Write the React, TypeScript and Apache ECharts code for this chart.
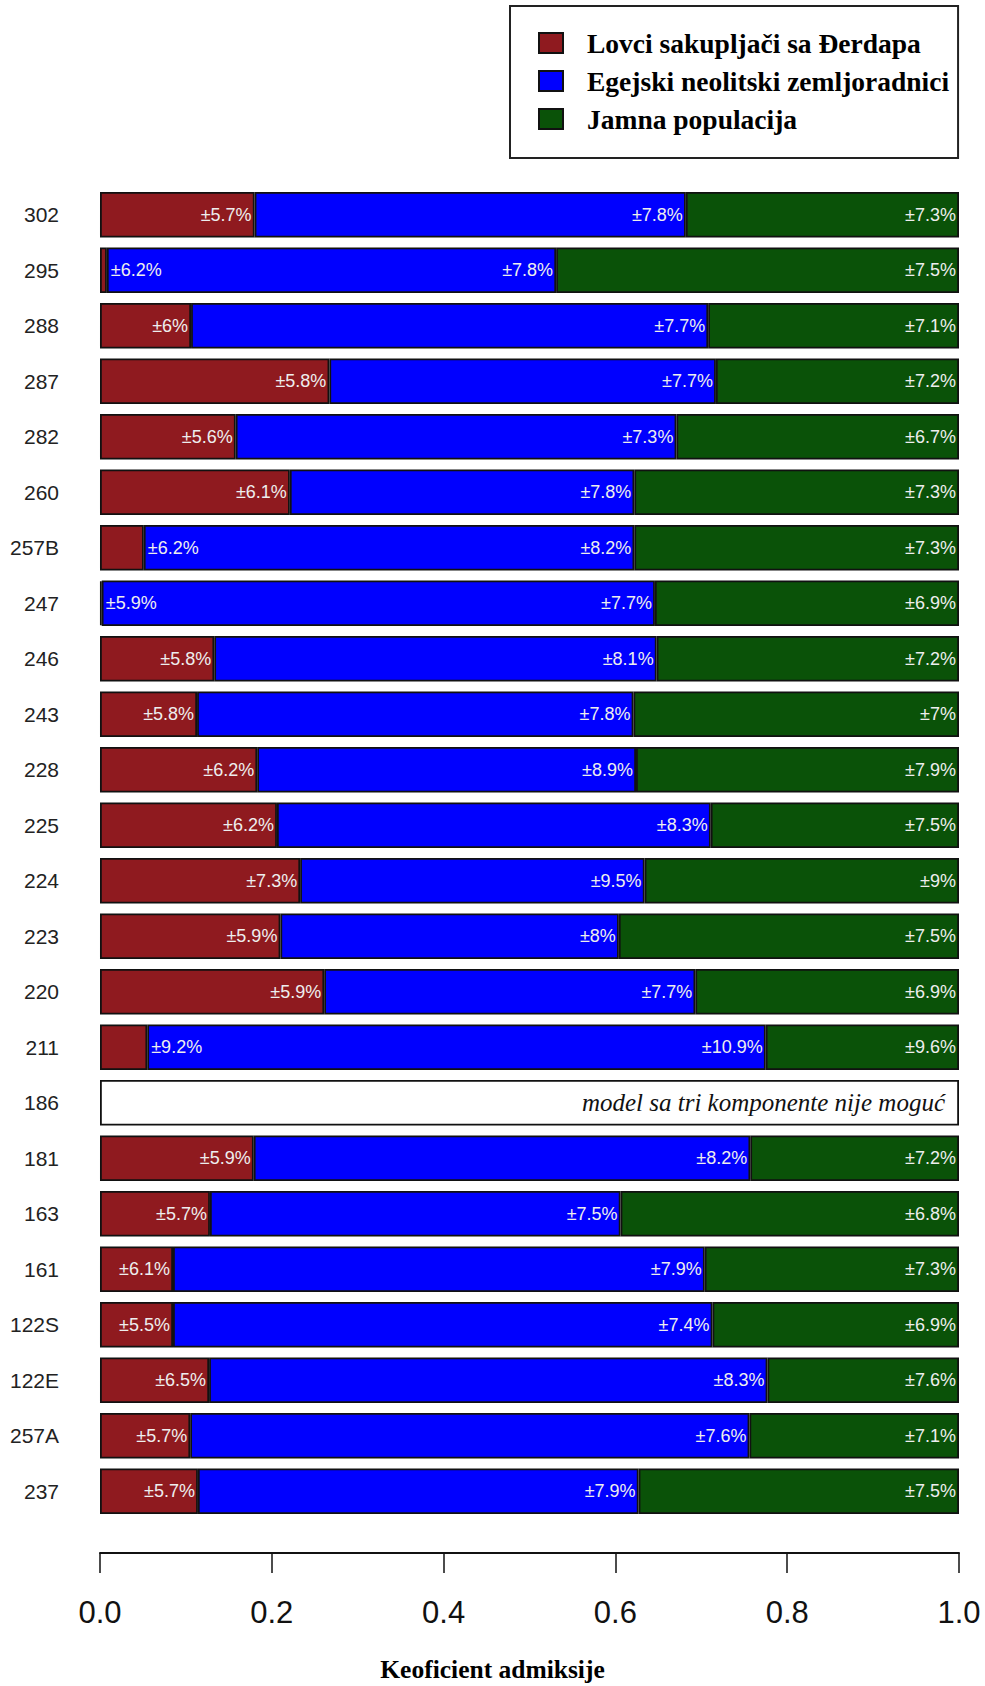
import React, { useEffect, useRef } from "react";
import * as echarts from "echarts";

// Samples, top to bottom
const samples = [
  "302", "295", "288", "287", "282", "260", "257B", "247", "246", "243", "228", "225",
  "224", "223", "220", "211", "186", "181", "163", "161", "122S", "122E", "257A", "237",
];

// Admixture proportions per source population (null = model not feasible)
const hunterGatherers: (number | null)[] = [
  0.180, 0.008, 0.106, 0.267, 0.158, 0.221, 0.051, 0.002, 0.133, 0.113, 0.183, 0.206,
  0.233, 0.210, 0.261, 0.055, null, 0.179, 0.128, 0.085, 0.085, 0.127, 0.105, 0.114,
];
const aegeanFarmers: (number | null)[] = [
  0.502, 0.523, 0.602, 0.450, 0.513, 0.401, 0.571, 0.644, 0.515, 0.508, 0.441, 0.505,
  0.401, 0.394, 0.432, 0.720, null, 0.578, 0.478, 0.619, 0.628, 0.650, 0.651, 0.513,
];
const yamnaya: (number | null)[] = [
  0.318, 0.469, 0.292, 0.283, 0.329, 0.378, 0.378, 0.354, 0.352, 0.379, 0.376, 0.289,
  0.366, 0.396, 0.307, 0.225, null, 0.243, 0.394, 0.296, 0.287, 0.223, 0.244, 0.373,
];

// Standard errors (in %)
const hunterGatherersErr: (number | null)[] = [
  5.7, 6.2, 6, 5.8, 5.6, 6.1, 6.2, 5.9, 5.8, 5.8, 6.2, 6.2,
  7.3, 5.9, 5.9, 9.2, null, 5.9, 5.7, 6.1, 5.5, 6.5, 5.7, 5.7,
];
const aegeanFarmersErr: (number | null)[] = [
  7.8, 7.8, 7.7, 7.7, 7.3, 7.8, 8.2, 7.7, 8.1, 7.8, 8.9, 8.3,
  9.5, 8, 7.7, 10.9, null, 8.2, 7.5, 7.9, 7.4, 8.3, 7.6, 7.9,
];
const yamnayaErr: (number | null)[] = [
  7.3, 7.5, 7.1, 7.2, 6.7, 7.3, 7.3, 6.9, 7.2, 7, 7.9, 7.5,
  9, 7.5, 6.9, 9.6, null, 7.2, 6.8, 7.3, 6.9, 7.6, 7.1, 7.5,
];

const seriesNames = [
  "Lovci sakupljači sa Đerdapa",
  "Egejski neolitski zemljoradnici",
  "Jamna populacija",
];
const noModelText = "model sa tri komponente nije moguć";
const xTicks = [0, 0.2, 0.4, 0.6, 0.8, 1.0];
const xTitle = "Keoficient admiksije";

const colors = ["#8f1a1f", "#0000ff", "#0a5208"];

const SANS = "'Liberation Sans', Arimo, Helvetica, Arial, sans-serif";
const SERIF = "'Liberation Serif', 'Times New Roman', serif";

export default function App() {
  const ref = useRef<HTMLDivElement>(null);

  useEffect(() => {
    document.body.style.margin = "0";
    if (!ref.current) return;
    const chart = echarts.init(ref.current, undefined, { renderer: "svg" });

    const valueLabel = {
      show: true,
      position: "insideRight" as const,
      distance: 3,
      color: "#eeeeee",
      fontFamily: SANS,
      fontSize: 18,
    };

    // Segment labels: a segment too narrow for its label gets it just past its end
    const makeData = (vals: (number | null)[], errs: (number | null)[], small?: boolean) =>
      vals.map((v, i) => {
        if (v === null) return { value: null };
        const outside = small && v < 0.07;
        return {
          value: v,
          label: {
            ...valueLabel,
            formatter: errs[i] === null ? "" : `±${errs[i]}%`,
            position: outside ? "right" : "insideRight",
            distance: outside ? 4 : 3,
          },
        };
      });

    const barBase = {
      type: "bar" as const,
      stack: "total",
      barCategoryGap: "18%",
      itemStyle: { borderColor: "#111", borderWidth: 1.8 },
    };

    const noModel = samples.map((_, i) =>
      hunterGatherers[i] === null ? { value: 1 } : { value: null }
    );

    chart.setOption({
      animation: false,
      backgroundColor: "#ffffff",
      grid: { left: 100, right: 26, top: 187, bottom: 167 },
      legend: {
        data: seriesNames,
        orient: "vertical",
        left: 510,
        top: 6,
        padding: [23, 9, 25, 28],
        itemGap: 10,
        itemWidth: 24,
        itemHeight: 20,
        borderColor: "#222",
        borderWidth: 2,
        icon: "rect",
        selectedMode: false,
        textStyle: {
          fontFamily: SERIF,
          fontWeight: "bold",
          fontSize: 27.5,
          color: "#000",
          padding: [0, 0, 0, 19],
        },
      },
      xAxis: {
        type: "value",
        min: 0,
        max: 1,
        interval: 0.2,
        position: "bottom",
        offset: 34,
        axisLine: { show: true, lineStyle: { color: "#111", width: 2 } },
        axisTick: { show: true, length: 20, lineStyle: { color: "#111", width: 1.5 } },
        splitLine: { show: false },
        axisLabel: {
          margin: 44,
          fontFamily: SANS,
          fontSize: 31,
          color: "#111",
          formatter: (v: number) => (xTicks.some((t) => Math.abs(t - v) < 1e-9) ? v.toFixed(1) : ""),
        },
      },
      yAxis: {
        type: "category",
        data: samples,
        inverse: true,
        axisLine: { show: false },
        axisTick: { show: false },
        axisLabel: { margin: 41, fontFamily: SANS, fontSize: 21, color: "#222" },
      },
      graphic: [
        {
          type: "text",
          left: "center",
          top: 1656,
          style: {
            text: xTitle,
            fontFamily: SERIF,
            fontWeight: "bold",
            fontSize: 25.5,
            fill: "#000",
          },
        },
      ],
      series: [
        {
          ...barBase,
          name: seriesNames[0],
          z: 4,
          itemStyle: { ...barBase.itemStyle, color: colors[0] },
          data: makeData(hunterGatherers, hunterGatherersErr, true),
        },
        {
          ...barBase,
          name: seriesNames[1],
          z: 3,
          itemStyle: { ...barBase.itemStyle, color: colors[1] },
          data: makeData(aegeanFarmers, aegeanFarmersErr),
        },
        {
          ...barBase,
          name: seriesNames[2],
          z: 2,
          itemStyle: { ...barBase.itemStyle, color: colors[2] },
          data: makeData(yamnaya, yamnayaErr),
        },
        {
          ...barBase,
          name: "nomodel",
          z: 2,
          itemStyle: { ...barBase.itemStyle, color: "#ffffff" },
          label: {
            show: true,
            position: "insideRight",
            distance: 14,
            formatter: noModelText,
            fontFamily: SERIF,
            fontStyle: "italic",
            fontSize: 25,
            color: "#111",
          },
          data: noModel,
        },
      ],
    });

    return () => chart.dispose();
  }, []);

  return <div ref={ref} style={{ width: 985, height: 1686 }} />;
}
